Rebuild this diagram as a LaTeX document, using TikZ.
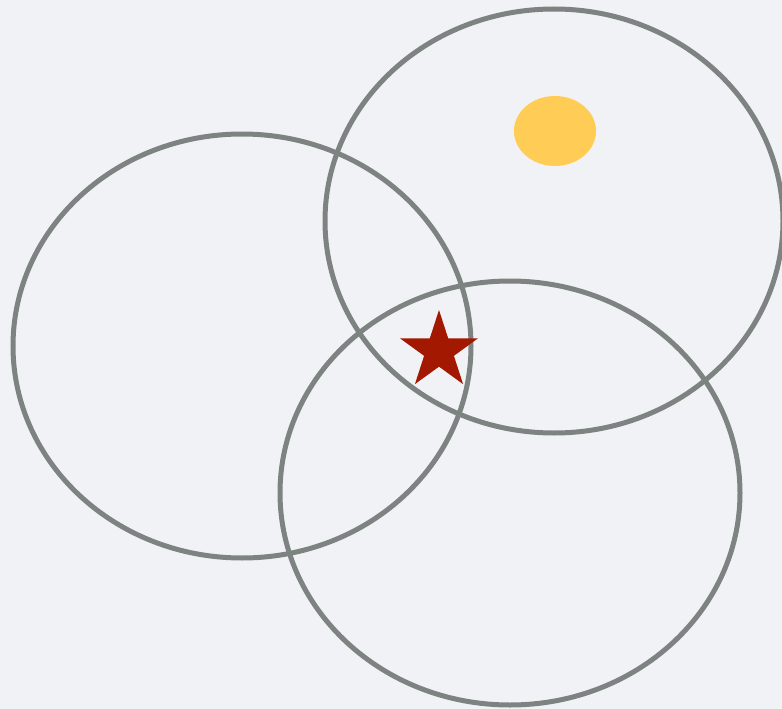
\documentclass[tikz,border=0pt]{standalone}
\usetikzlibrary{shapes.geometric}
\definecolor{bgc}{HTML}{F1F2F5}
\definecolor{ringc}{HTML}{7D8381}
\definecolor{starc}{HTML}{A31800}
\definecolor{sunc}{HTML}{FFCC55}
\begin{document}
\begin{tikzpicture}[x=1pt,y=-1pt,
  ring/.style={draw=ringc,line width=5pt}]
\fill[bgc] (0,0) rectangle (782,709);
\useasboundingbox (0,0) rectangle (782,709);
\draw[ring] (242,346) ellipse [x radius=229, y radius=212];
\draw[ring] (554,221) ellipse [x radius=229, y radius=212];
\draw[ring] (510,493) ellipse [x radius=230, y radius=212];
\fill[sunc] (555,131) ellipse [x radius=41, y radius=35];
\node[star, star points=5, star point ratio=2.618, minimum size=82pt, inner sep=0pt, fill=starc] (st) at (439,351) {};
\end{tikzpicture}
\end{document}
